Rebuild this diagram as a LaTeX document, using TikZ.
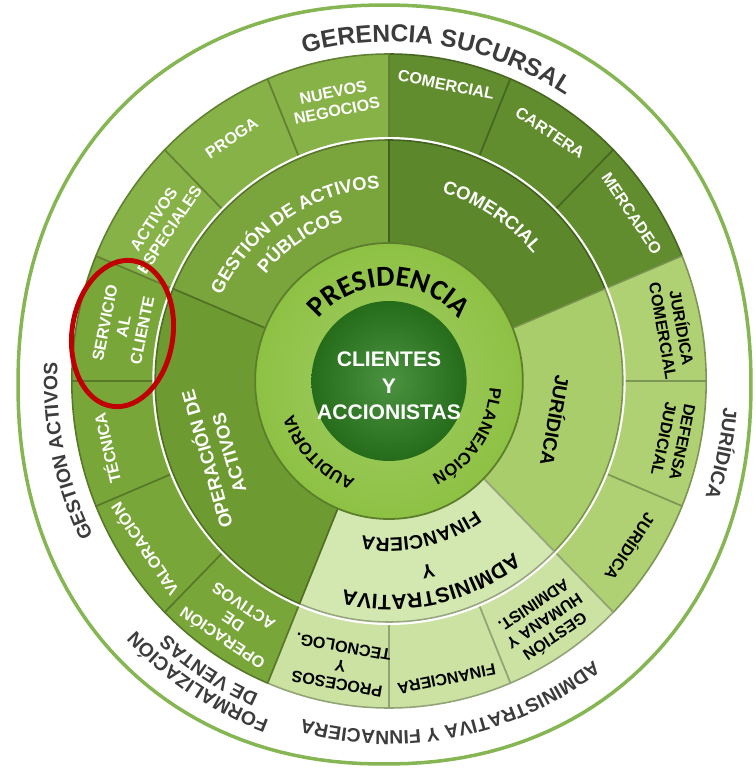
\documentclass[tikz,border=0pt]{standalone}
\usepackage{fontspec}
\setmainfont{Liberation Sans}
\newfontfamily\presfamily{Carlito}
\usetikzlibrary{decorations.text}
\definecolor{gestouter}{HTML}{87B247}
\definecolor{gestmid}{HTML}{7AA43C}
\definecolor{comouter}{HTML}{618D2E}
\definecolor{commid}{HTML}{5C872A}
\definecolor{jurouter}{HTML}{AFD173}
\definecolor{jurmid}{HTML}{A9CD6B}
\definecolor{admouter}{HTML}{CBE2A2}
\definecolor{admmid}{HTML}{D3E7B0}
\definecolor{opeouter}{HTML}{79A639}
\definecolor{opemid}{HTML}{6E9B31}
\definecolor{presgreen}{HTML}{8DC143}
\definecolor{coregreen}{HTML}{2C7F1F}
\definecolor{rimgreen}{HTML}{86B653}
\definecolor{labelgray}{HTML}{3C3C3C}
\definecolor{markred}{HTML}{C00000}
\newcommand{\outerfont}{\fontsize{11}{13}\selectfont\bfseries\color{labelgray}}
\newcommand{\gerfont}{\fontsize{14}{16}\selectfont\bfseries\color{labelgray}}
\newcommand{\midfont}{\fontsize{10.5}{13}\selectfont\bfseries}
\newcommand{\ringfont}{\fontsize{9.5}{11}\selectfont\bfseries}
\newcommand{\presfont}{\presfamily\fontsize{16.5}{18}\selectfont\bfseries}

\begin{document}
\begin{tikzpicture}[x=0.02cm, y=0.02cm,
        seg/.style={fill=#1, draw=#1!72!black, line width=0.9pt},
        segwhite/.style={text=white, font=\fontsize{9.2}{10.8}\selectfont\bfseries, align=center, inner sep=0pt},
        segdark/.style={segwhite, text=black},
        midlabel/.style={font=\midfont, align=center, inner sep=0pt},
        arclabel/.style={decorate, decoration={text along path, text align=center, text={#1}}},
        rimline/.style={draw=rimgreen, line width=2pt},
        markring/.style={draw=markred, line width=2.8pt}
    ]
    \useasboundingbox (-389,-387) rectangle (367,381);

    % Outer rim line
    \draw[rimline] plot[domain=1:361, samples=181, variable=\t]
        ({-4.5+366.5*cos(\t)*abs(cos(\t))^(-0.07)}, {-3.5+379.5*sin(\t)*abs(sin(\t))^(-0.07)}) -- cycle;

    \begin{scope}[xscale=0.97]
    % Outer ring: sixteen units
    \draw[seg=comouter] (0,0) -- (90:327) arc[start angle=90, end angle=67.5, radius=327] -- cycle;
    \draw[seg=comouter] (0,0) -- (67.5:327) arc[start angle=67.5, end angle=45, radius=327] -- cycle;
    \draw[seg=comouter] (0,0) -- (45:327) arc[start angle=45, end angle=22.5, radius=327] -- cycle;
    \draw[seg=jurouter] (0,0) -- (22.5:327) arc[start angle=22.5, end angle=0, radius=327] -- cycle;
    \draw[seg=jurouter] (0,0) -- (0:327) arc[start angle=0, end angle=-22.5, radius=327] -- cycle;
    \draw[seg=jurouter] (0,0) -- (-22.5:327) arc[start angle=-22.5, end angle=-45, radius=327] -- cycle;
    \draw[seg=admouter] (0,0) -- (-45:327) arc[start angle=-45, end angle=-67.5, radius=327] -- cycle;
    \draw[seg=admouter] (0,0) -- (-67.5:327) arc[start angle=-67.5, end angle=-90, radius=327] -- cycle;
    \draw[seg=admouter] (0,0) -- (-90:327) arc[start angle=-90, end angle=-112.5, radius=327] -- cycle;
    \draw[seg=opeouter] (0,0) -- (-112.5:327) arc[start angle=-112.5, end angle=-135, radius=327] -- cycle;
    \draw[seg=opeouter] (0,0) -- (-135:327) arc[start angle=-135, end angle=-157.5, radius=327] -- cycle;
    \draw[seg=opeouter] (0,0) -- (-157.5:327) arc[start angle=-157.5, end angle=-180, radius=327] -- cycle;
    \draw[seg=opeouter] (0,0) -- (180:327) arc[start angle=180, end angle=157.5, radius=327] -- cycle;
    \draw[seg=gestouter] (0,0) -- (157.5:327) arc[start angle=157.5, end angle=135, radius=327] -- cycle;
    \draw[seg=gestouter] (0,0) -- (135:327) arc[start angle=135, end angle=112.5, radius=327] -- cycle;
    \draw[seg=gestouter] (0,0) -- (112.5:327) arc[start angle=112.5, end angle=90, radius=327] -- cycle;

    % White gap
    \fill[white] (0,0) circle[radius=244];

    % Middle ring: five areas
    \draw[seg=gestmid] (0,0) -- (90:241) arc[start angle=90, end angle=157.5, radius=241] -- cycle;
    \draw[seg=commid] (0,0) -- (22.5:241) arc[start angle=22.5, end angle=90, radius=241] -- cycle;
    \draw[seg=jurmid] (0,0) -- (-45:241) arc[start angle=-45, end angle=22.5, radius=241] -- cycle;
    \draw[seg=admmid] (0,0) -- (-112.5:241) arc[start angle=-112.5, end angle=-45, radius=241] -- cycle;
    \draw[seg=opemid] (0,0) -- (157.5:241) arc[start angle=157.5, end angle=247.5, radius=241] -- cycle;

    % Presidencia and core
    \shade[inner color=presgreen!80!white, outer color=presgreen] (0,0) circle[radius=138];
    \draw[presgreen!65!black, line width=1pt] (0,0) circle[radius=138];
    \shade[inner color=coregreen!85!white, outer color=coregreen!85!black] (0,0) circle[radius=80];
    \node[font=\fontsize{12}{15}\selectfont\bfseries, text=white, align=center] (clientes) at (0,-5) {CLIENTES\\Y\\ACCIONISTAS};
    \path[arclabel={|\presfont|PRESIDENCIA}] (150:95) arc[start angle=150, end angle=30, radius=95];
    \path[arclabel={|\ringfont|PLANEACIÓN}] (10:104) arc[start angle=10, end angle=-79, radius=104];
    \path[arclabel={|\ringfont|AUDITORIA}] (-90:104) arc[start angle=-90, end angle=-180, radius=104];

    % Middle ring labels
    \path[arclabel={|\midfont\color{white}|GESTIÓN DE ACTIVOS}] (170:193) arc[start angle=170, end angle=76, radius=193];
    \path[arclabel={|\midfont\color{white}|PÚBLICOS}] (160:166) arc[start angle=160, end angle=86, radius=166];
    \path[arclabel={|\midfont\color{white}|COMERCIAL}] (100:196) arc[start angle=100, end angle=15, radius=196];
    \node[midlabel, font=\fontsize{11}{13}\selectfont\bfseries, rotate=-100] (juridicamid) at (-13:177) {JURÍDICA};
    \path[arclabel={|\fontsize{12}{14}\selectfont\bfseries|ADMINISTRATIVA}] (-30:214) arc[start angle=-30, end angle=-126, radius=214];
    \node[midlabel, font=\fontsize{11}{13}\selectfont\bfseries, rotate=-168] (admy) at (-78:195) {Y};
    \path[arclabel={|\fontsize{11}{13}\selectfont\bfseries|FINANCIERA}] (-28:157) arc[start angle=-28, end angle=-128, radius=157];
    \node[midlabel, text=white, rotate=106] (operacionmid) at (203:193) {OPERACIÓN DE\\ACTIVOS};

    % Outer ring labels
    \node[segwhite, rotate=-11.25] (comercialseg) at (78.75:302) {COMERCIAL};
    \node[segwhite, rotate=-33.75] (cartera) at (56.25:299) {CARTERA};
    \node[segwhite, rotate=-56.25] (mercadeo) at (33.75:301) {MERCADEO};
    \node[segdark, rotate=-80] (juridicacom) at (10:298) {JURÍDICA\\COMERCIAL};
    \node[segdark, rotate=-101.5] (defensa) at (-11.5:299) {DEFENSA\\JUDICIAL};
    \node[segdark, rotate=-123.75] (juridicaseg) at (-33.75:300) {JURÍDICA};
    \node[segdark, rotate=-146.25] (gestionhum) at (-56.25:290) {GESTIÓN\\HUMANA Y\\ADMINIST.};
    \node[segdark, rotate=-168.75] (financieraseg) at (-78.75:304) {FINANCIERA};
    \node[segdark, rotate=-190] (procesos) at (-100:289) {PROCESOS\\Y\\TECNOLOG.};
    \node[segwhite, rotate=-213.75] (operacionseg) at (-123.75:291) {OPERACIÓN\\DE\\ACTIVOS};
    \node[segwhite, rotate=-236.25] (valoracion) at (-146.25:304) {VALORACIÓN};
    \node[segwhite, rotate=-257] (tecnica) at (-167:299) {TÉCNICA};
    \node[segwhite, rotate=78.75] (servicio) at (168.75:279) {SERVICIO\\AL\\CLIENTE};
    \node[segwhite, rotate=56.25] (especiales) at (146.25:282) {ACTIVOS\\ESPECIALES};
    \node[segwhite, rotate=33.75] (proga) at (123.75:292) {PROGA};
    \node[segwhite, rotate=11.25] (nuevos) at (101.25:285) {NUEVOS\\NEGOCIOS};

    % Labels round the rim
    \path[arclabel={|\gerfont|GERENCIA SUCURSAL}] (140:339) arc[start angle=140, end angle=22.8, radius=339];
    \path[arclabel={|\outerfont|JURÍDICA}] (18:346) arc[start angle=18, end angle=-42, radius=346];
    \path[arclabel={|\outerfont|ADMINISTRATIVA Y FINNACIERA}] (-30:350) arc[start angle=-30, end angle=-128, radius=350];
    \path[arclabel={|\outerfont|FORMALIZACIÓN}] (-93:361) arc[start angle=-93, end angle=-153, radius=361];
    \path[arclabel={|\outerfont|DE VENTAS}] (-95:341) arc[start angle=-95, end angle=-150, radius=341];
    \path[arclabel={|\outerfont|GESTION ACTIVOS}] (222:342) arc[start angle=222, end angle=162, radius=342];
    \end{scope}

    % Highlight on Servicio al cliente
    \draw[markring, rotate around={-8:(-266.5,47.5)}] (-266.5,47.5) ellipse[x radius=50.5, y radius=73.5];
\end{tikzpicture}
\end{document}
